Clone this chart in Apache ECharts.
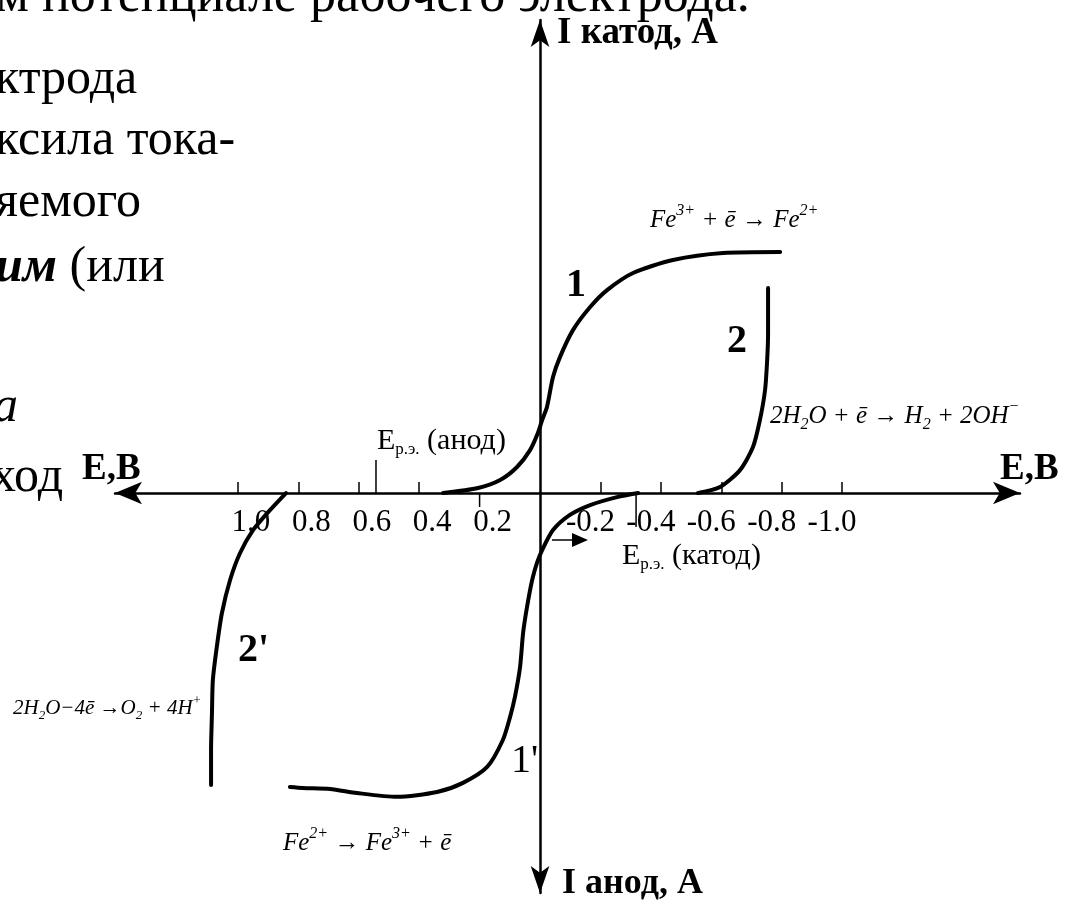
<!DOCTYPE html>
<html>
<head>
<meta charset="utf-8">
<script src="https://cdn.jsdelivr.net/npm/echarts@6/dist/echarts.min.js"></script>
<style>
  html, body { margin: 0; padding: 0; background: #fff; }
  #chart { width: 1069px; height: 906px; }
</style>
</head>
<body>
<div id="chart"></div>
<script>
// Polarization curves: potential E (V, positive values to the left),
// current I in relative units (cathodic current up, anodic current down).

// 1 — cathodic reduction Fe3+ + e -> Fe2+
const curveFe3Reduction = [
  [0.321, 0], [0.205, 0.021], [0.132, 0.054], [0.076, 0.108], [0.033, 0.178],
  [0.007, 0.249], [-0.007, 0.303], [-0.023, 0.357], [-0.043, 0.481], [-0.066, 0.564],
  [-0.109, 0.676], [-0.166, 0.772], [-0.222, 0.842], [-0.308, 0.913], [-0.440, 0.967],
  [-0.606, 0.996], [-0.795, 1.0]
];
// 2 — hydrogen evolution 2H2O + e -> H2 + 2OH-
const curveHydrogen = [
  [-0.523, 0], [-0.596, 0.025], [-0.662, 0.095], [-0.705, 0.191], [-0.728, 0.303],
  [-0.745, 0.427], [-0.752, 0.552], [-0.755, 0.664], [-0.755, 0.851]
];
// 1' — anodic oxidation Fe2+ -> Fe3+ + e
const curveFe2Oxidation = [
  [-0.325, 0], [-0.255, -0.017], [-0.166, -0.050], [-0.099, -0.091], [-0.043, -0.154],
  [-0.007, -0.237], [0.010, -0.290], [0.026, -0.361], [0.043, -0.473], [0.056, -0.581],
  [0.066, -0.722], [0.083, -0.846], [0.099, -0.929], [0.123, -1.025], [0.175, -1.137],
  [0.255, -1.203], [0.341, -1.241], [0.474, -1.261], [0.606, -1.245], [0.695, -1.228],
  [0.785, -1.224], [0.828, -1.220]
];
// 2' — oxygen evolution 2H2O - 4e -> O2 + 4H+
const curveOxygen = [
  [0.841, 0], [0.894, -0.071], [0.950, -0.154], [0.993, -0.249], [1.026, -0.361],
  [1.053, -0.498], [1.070, -0.639], [1.083, -0.776], [1.086, -0.913], [1.089, -1.066],
  [1.089, -1.212]
];

// potential axis ticks and labels
const labelValues = [1.0, 0.8, 0.6, 0.4, 0.2, -0.2, -0.4, -0.6, -0.8, -1.0];
const upTickValues = [1.0, 0.8, 0.6, 0.4, -0.2, -0.4, -0.6, -0.8, -1.0];
const downTickValues = [0.2];
// equilibrium potentials of the working electrode
const eqPotentialAnode = [0.543];
const eqPotentialCathode = [-0.318];

const SERIF = '"Liberation Serif", "Times New Roman", serif';

// axis extents
const E_MIN = -1.589, E_MAX = 1.407;
const I_MIN = -1.66, I_MAX = 1.963;
const GRID = { left: 115, right: 49, top: 20, bottom: 13 };
const CHART_H = 906;

// pixel distance from the grid bottom up to the I = 0 line
const plotH = CHART_H - GRID.top - GRID.bottom;
const zeroOffset = plotH * (0 - I_MIN) / (I_MAX - I_MIN);

function tickSeries(name, values, dy, width) {
  return {
    type: 'custom', name: name, silent: true, z: 5,
    data: values.map(v => [v, 0]),
    renderItem: function (params, api) {
      const p = api.coord([api.value(0), api.value(1)]);
      return {
        type: 'line',
        shape: { x1: p[0], y1: p[1], x2: p[0], y2: p[1] + dy },
        style: { stroke: '#000', lineWidth: width }
      };
    }
  };
}

function curveSeries(name, data) {
  return {
    type: 'line', name: name, data: data, smooth: 0.25, showSymbol: false,
    silent: true, z: 4,
    lineStyle: { color: '#000', width: 4, cap: 'round' }
  };
}

function txt(x, y, text, font) {
  return {
    type: 'text', x: x, y: y, silent: true,
    style: { text: text, font: font, fill: '#000', align: 'left', verticalAlign: 'middle' }
  };
}

function richTxt(x, y, text, rich) {
  return {
    type: 'text', x: x, y: y, silent: true,
    style: { text: text, rich: rich, fill: '#000', align: 'left', verticalAlign: 'middle' }
  };
}

const eqRich = (fs) => ({
  it: { fontFamily: SERIF, fontStyle: 'italic', fontSize: fs, lineHeight: Math.round(fs * 1.35), fill: '#000' },
  sup: { fontFamily: SERIF, fontStyle: 'italic', fontSize: Math.round(fs * 0.62), lineHeight: Math.round(fs * 0.64), verticalAlign: 'top', fill: '#000' },
  sub: { fontFamily: SERIF, fontStyle: 'italic', fontSize: Math.round(fs * 0.62), lineHeight: Math.round(fs * 0.64), verticalAlign: 'bottom', fill: '#000' }
});

const epRich = {
  e: { fontFamily: SERIF, fontSize: 30, lineHeight: 34, fill: '#000' },
  s: { fontFamily: SERIF, fontSize: 17, lineHeight: 17, verticalAlign: 'bottom', fill: '#000' }
};

const chart = echarts.init(document.getElementById('chart'), null, { renderer: 'canvas' });

chart.setOption({
  animation: false,
  backgroundColor: '#fff',
  grid: Object.assign({ containLabel: false, outerBoundsMode: 'none' }, GRID),
  xAxis: [
    {
      // potential axis line through I = 0, with arrows and ticks
      type: 'value', min: E_MIN, max: E_MAX, inverse: true,
      axisLine: {
        onZero: true, symbol: ['arrow', 'arrow'], symbolSize: [17, 27],
        lineStyle: { color: '#000', width: 2.5 }
      },
      axisTick: { show: true, inside: true, length: 11, customValues: upTickValues, lineStyle: { color: '#000', width: 1.5 } },
      axisLabel: { show: false },
      splitLine: { show: false }
    },
    {
      // tick labels, laid along the I = 0 line
      type: 'value', min: E_MIN, max: E_MAX, inverse: true, position: 'bottom',
      offset: -zeroOffset,
      axisLine: { show: false, onZero: false },
      axisTick: { show: false },
      axisLabel: {
        customValues: labelValues, margin: 14,
        formatter: v => (v > 0 ? '{p|' : '{n|') + v.toFixed(1) + '}',
        rich: {
          p: { fontFamily: SERIF, fontSize: 31, color: '#000', padding: [0, 0, 0, 26] },
          n: { fontFamily: SERIF, fontSize: 31, color: '#000', padding: [0, 20, 0, 0] }
        }
      },
      splitLine: { show: false }
    }
  ],
  yAxis: {
    type: 'value', min: I_MIN, max: I_MAX,
    axisLine: {
      onZero: true, symbol: ['arrow', 'arrow'], symbolSize: [14, 27],
      lineStyle: { color: '#000', width: 2.5 }
    },
    axisTick: { show: false },
    axisLabel: { show: false },
    splitLine: { show: false }
  },
  series: [
    curveSeries('1', curveFe3Reduction),
    curveSeries('2', curveHydrogen),
    curveSeries("1'", curveFe2Oxidation),
    curveSeries("2'", curveOxygen),
    tickSeries('ticks below', downTickValues, 14, 1.5),
    tickSeries('Ep anode', eqPotentialAnode, -33, 1.5),
    tickSeries('Ep cathode', eqPotentialCathode, 34, 1.5)
  ],
  graphic: [
    // slide text around the diagram
    txt(-4, -3, 'м потенциале рабочего электрода.', '52px ' + SERIF),
    txt(-5, 80, 'ктрода', '50px ' + SERIF),
    txt(-5, 141, 'ксила тока-', '50px ' + SERIF),
    txt(-5, 203, 'яемого', '50px ' + SERIF),
    richTxt(-5, 268, '{b|им}{r| (или}', {
      b: { fontFamily: SERIF, fontSize: 50, fontStyle: 'italic', fontWeight: 'bold', fill: '#000' },
      r: { fontFamily: SERIF, fontSize: 50, fill: '#000' }
    }),
    txt(-7, 408, 'а', 'italic 50px ' + SERIF),
    txt(-9, 478, 'ход', '50px ' + SERIF),

    // axis titles
    txt(557, 33, 'I катод, А', 'bold 37px ' + SERIF),
    txt(562, 884, 'I анод, А', 'bold 36px ' + SERIF),
    txt(82, 469, 'Е,В', 'bold 37px ' + SERIF),
    txt(1000, 469, 'Е,В', 'bold 37px ' + SERIF),

    // curve numbers
    txt(566, 286, '1', 'bold 40px ' + SERIF),
    txt(727, 342, '2', 'bold 40px ' + SERIF),
    txt(238, 651, "2'", 'bold 40px ' + SERIF),
    txt(511, 761, "1'", '40px ' + SERIF),

    // electrode reactions
    richTxt(650, 220, '{it|Fe}{sup|3+}{it| + ē → Fe}{sup|2+}', eqRich(25)),
    richTxt(770, 416, '{it|2H}{sub|2}{it|O + ē → H}{sub|2}{it| + 2OH}{sup|−}', eqRich(25)),
    richTxt(13, 708, '{it|2H}{sub|2}{it|O−4ē →O}{sub|2}{it| + 4H}{sup|+}', eqRich(21)),
    richTxt(283, 843, '{it|Fe}{sup|2+}{it| → Fe}{sup|3+}{it| + ē}', eqRich(25)),

    // equilibrium potential labels
    richTxt(377, 441, '{e|E}{s|р.э.}{e| (анод)}', epRich),
    richTxt(622, 556, '{e|E}{s|р.э.}{e| (катод)}', epRich),

    // pointer towards the cathodic equilibrium potential
    { type: 'line', silent: true, shape: { x1: 552, y1: 540, x2: 578, y2: 540 }, style: { stroke: '#000', lineWidth: 1.5 } },
    { type: 'polygon', silent: true, shape: { points: [[572, 533], [588, 540], [572, 547]] }, style: { fill: '#000' } }
  ]
});
</script>
</body>
</html>
